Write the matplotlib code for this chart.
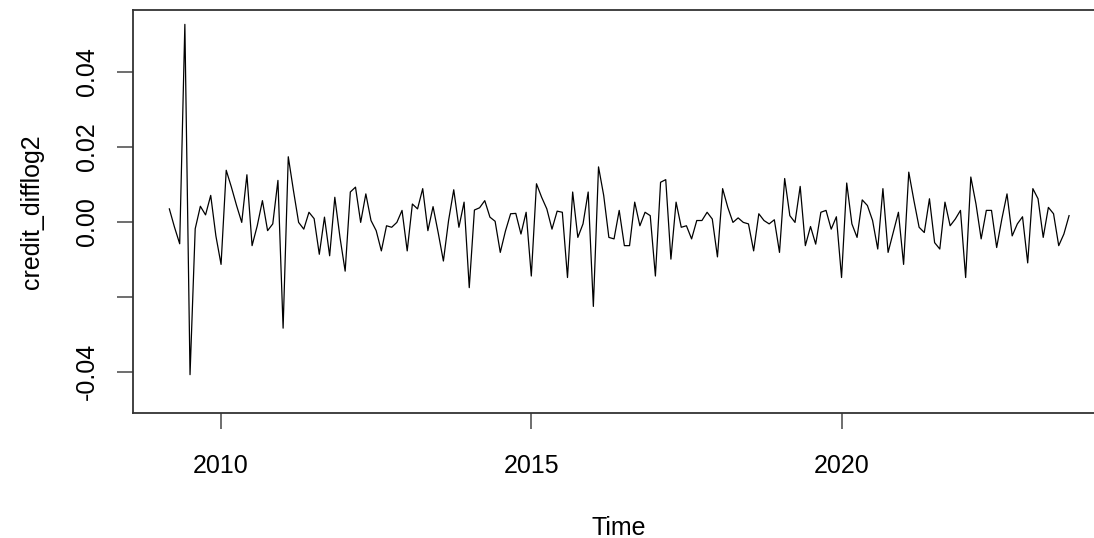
import numpy as np
import matplotlib
matplotlib.use("Agg")
import matplotlib.pyplot as plt
from matplotlib.ticker import FixedLocator, FixedFormatter

# monthly series, starts March 2009
start_year = 2009
start_month = 3
freq = 12

credit_difflog2 = [
    # 2009 (Mar-Dec)
    0.0034, -0.0015, -0.0059, 0.0526, -0.0408, -0.0019, 0.0041, 0.0018, 0.0070, -0.0038,
    # 2010
    -0.0114, 0.0137, 0.0092, 0.0043, -0.0002, 0.0125, -0.0064, -0.0011, 0.0056, -0.0024, -0.0006, 0.0110,
    # 2011
    -0.0284, 0.0173, 0.0083, -0.0002, -0.0020, 0.0025, 0.0008, -0.0087, 0.0012, -0.0091, 0.0065, -0.0042,
    # 2012
    -0.0132, 0.0079, 0.0092, -0.0002, 0.0074, 0.0003, -0.0024, -0.0078, -0.0011, -0.0015, -0.0002, 0.0030,
    # 2013
    -0.0078, 0.0047, 0.0034, 0.0088, -0.0024, 0.0040, -0.0030, -0.0105, 0.0003, 0.0085, -0.0015, 0.0052,
    # 2014
    -0.0176, 0.0031, 0.0037, 0.0056, 0.0012, 0.0001, -0.0082, -0.0025, 0.0021, 0.0022, -0.0033, 0.0025,
    # 2015
    -0.0145, 0.0101, 0.0065, 0.0034, -0.0020, 0.0028, 0.0025, -0.0149, 0.0079, -0.0042, -0.0006, 0.0079,
    # 2016
    -0.0226, 0.0146, 0.0070, -0.0042, -0.0046, 0.0030, -0.0064, -0.0064, 0.0052, -0.0011, 0.0025, 0.0016,
    # 2017
    -0.0145, 0.0105, 0.0112, -0.0100, 0.0052, -0.0015, -0.0011, -0.0046, 0.0003, 0.0003, 0.0025, 0.0007,
    # 2018
    -0.0094, 0.0088, 0.0038, -0.0002, 0.0010, -0.0002, -0.0006, -0.0078, 0.0021, 0.0003, -0.0006, 0.0005,
    # 2019
    -0.0082, 0.0115, 0.0016, -0.0002, 0.0094, -0.0064, -0.0013, -0.0060, 0.0025, 0.0030, -0.0020, 0.0013,
    # 2020
    -0.0149, 0.0103, -0.0006, -0.0042, 0.0058, 0.0043, 0.0003, -0.0073, 0.0088, -0.0082, -0.0029, 0.0025,
    # 2021
    -0.0114, 0.0132, 0.0056, -0.0015, -0.0029, 0.0061, -0.0056, -0.0073, 0.0052, -0.0011, 0.0007, 0.0030,
    # 2022
    -0.0149, 0.0119, 0.0047, -0.0046, 0.0030, 0.0030, -0.0069, 0.0007, 0.0074, -0.0038, -0.0006, 0.0013,
    # 2023 (Jan-Sep)
    -0.0110, 0.0088, 0.0061, -0.0042, 0.0038, 0.0021, -0.0064, -0.0033, 0.0016,
]

x_ticks = [2010, 2015, 2020]
y_ticks = [-0.04, -0.02, 0.00, 0.02, 0.04]
y_tick_labels = ["-0.04", "", "0.00", "0.02", "0.04"]

values = np.array(credit_difflog2)
t = start_year + (start_month - 1) / freq + np.arange(len(values)) / freq

plt.rcParams["font.family"] = ["Liberation Sans", "DejaVu Sans"]

fig = plt.figure(figsize=(10.94, 5.38), dpi=100)
# box runs a little past the right edge of the figure
ax = fig.add_axes([0.1219, 0.2318, 0.8882, 0.7487])
ax.plot(t, values, color="black", lw=0.9)

# R-style 4% padding on x
pad = 0.04 * (t[-1] - t[0])
ax.set_xlim(t[0] - pad, t[-1] + pad)
ax.set_ylim(-0.0511, 0.0563)

ax.xaxis.set_major_locator(FixedLocator(x_ticks))
ax.yaxis.set_major_locator(FixedLocator(y_ticks))
ax.yaxis.set_major_formatter(FixedFormatter(y_tick_labels))

for s in ax.spines.values():
    s.set_color("#333333")
    s.set_linewidth(1.3)

ax.tick_params(axis="both", direction="out", length=11.5, width=1.2,
               color="#555555", labelsize=18, pad=13)
ax.tick_params(axis="x", pad=18)
for lab in ax.get_yticklabels():
    lab.set_rotation(90)
    lab.set_va("center")

ax.set_xlabel("Time", fontsize=18)
ax.xaxis.set_label_coords(0.5, -0.285)
ax.xaxis.label.set_va("center")
ax.set_ylabel("credit_difflog2", fontsize=18)
ax.yaxis.set_label_coords(-0.1045, 0.5)
ax.yaxis.label.set_va("center")

fig.savefig("out.png", dpi=100)
